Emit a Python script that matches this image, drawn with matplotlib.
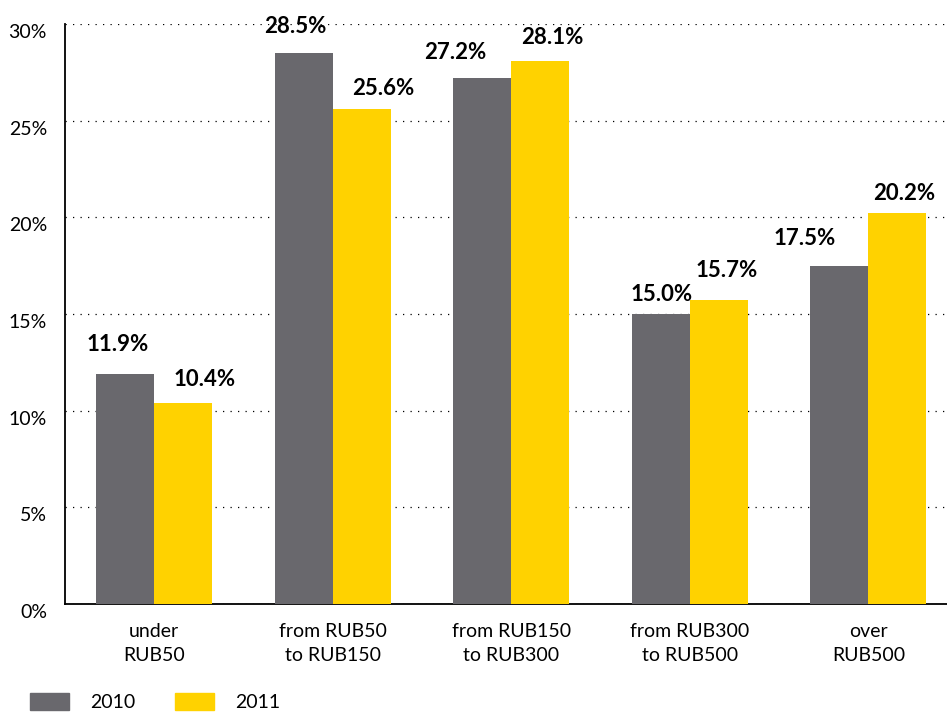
import numpy as np
import matplotlib.pyplot as plt
from matplotlib.patches import Patch

# Répartition par tranche de prix
categories = ["under\nRUB50", "from RUB50\nto RUB150", "from RUB150\nto RUB300",
              "from RUB300\nto RUB500", "over\nRUB500"]
values_2010 = [11.9, 28.5, 27.2, 15.0, 17.5]
values_2011 = [10.4, 25.6, 28.1, 15.7, 20.2]
years = ["2010", "2011"]

# Décalage des étiquettes (pixels) par rapport au sommet de chaque barre
shift_2010 = [(-8, 29), (-8, 27), (-27, 26), (1, 20), (-35, 27)]
shift_2011 = [(21, 23), (21, 21), (12, 23), (8, 30), (7, 20)]

gray = "#69686d"
yellow = "#ffd200"

plt.rcParams["font.family"] = ["Lato", "DejaVu Sans"]

fig = plt.figure(figsize=(9.47, 7.13), dpi=100)
ax = fig.add_axes([0.0686, 0.1529, 0.9314, 0.8134])

x = np.arange(len(categories))
w = 0.325
bars1 = ax.bar(x - w / 2, values_2010, w, color=gray, zorder=3)
bars2 = ax.bar(x + w / 2, values_2011, w, color=yellow, zorder=3)

# Étiquettes de valeurs au-dessus des barres
for bars, vals, shifts in [(bars1, values_2010, shift_2010), (bars2, values_2011, shift_2011)]:
    for b, v, d in zip(bars, vals, shifts):
        ax.annotate(f"{v:.1f}%", (b.get_x() + b.get_width() / 2, v),
                    xytext=d, textcoords="offset pixels", ha="center", va="center",
                    fontsize=16, fontweight="bold", clip_on=False)

ax.set_xlim(-0.5, 4.44)
ax.set_ylim(0, 30)
ax.set_yticks(range(0, 31, 5))
ax.set_yticklabels([f"{t}%" for t in range(0, 31, 5)], fontsize=14)
ax.set_xticks(x)
ax.set_xticklabels(categories, fontsize=14, linespacing=1.45)
ax.tick_params(axis="both", length=0)
ax.tick_params(axis="y", pad=13)
ax.tick_params(axis="x", pad=14)
for lbl in ax.get_yticklabels():
    lbl.set_va("top")

ax.yaxis.grid(True, linestyle=(0, (1, 5)), color="black", linewidth=0.9)
for s in ["top", "right"]:
    ax.spines[s].set_visible(False)
for s in ["left", "bottom"]:
    ax.spines[s].set_linewidth(1.3)

handles = [Patch(color=gray), Patch(color=yellow)]
fig.legend(handles, years, loc="upper left", bbox_to_anchor=(0.032, 0.028), ncol=2,
           frameon=False, fontsize=14, handlelength=2.0, handleheight=1.0,
           columnspacing=2.0, handletextpad=1.1, borderaxespad=0, borderpad=0)

fig.savefig("out.png", dpi=100)
